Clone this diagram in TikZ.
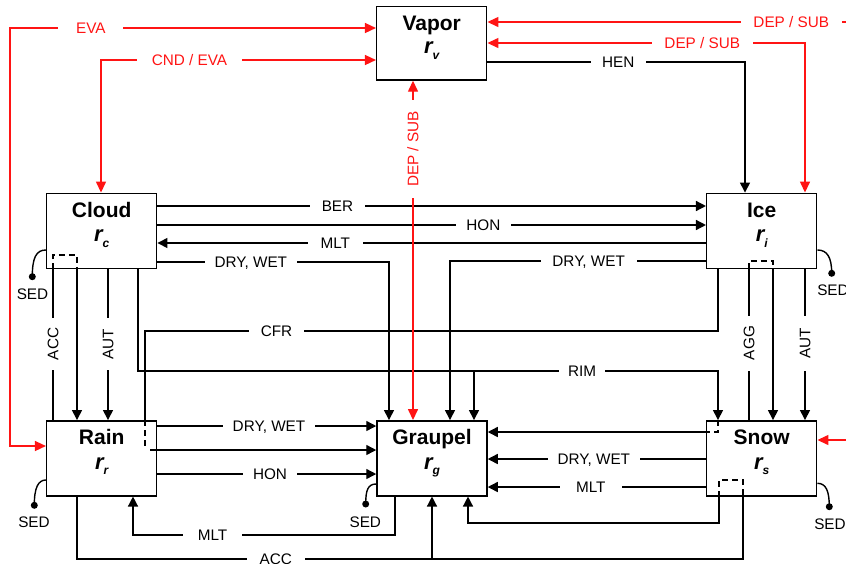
\documentclass[tikz,border=0pt]{standalone}
\usepackage{fontspec}
\setmainfont{Liberation Sans}
\usetikzlibrary{arrows.meta,calc}
\definecolor{rd}{RGB}{255,20,20}
\newcommand{\rsub}[1]{r\raisebox{-5.5pt}{\fontsize{12}{12}\selectfont #1}}
\begin{document}
\begin{tikzpicture}[x=1pt,y=-1pt,
  box/.style={draw,line width=1.5pt,minimum width=110pt,minimum height=75pt,inner sep=0pt},
  ttl/.style={font=\fontsize{21}{21}\selectfont\bfseries,anchor=base,inner sep=0pt},
  sym/.style={font=\fontsize{22}{22}\selectfont\bfseries\itshape,anchor=base,inner sep=0pt},
  ln/.style={line width=1.4pt},
  arr/.style={ln,-{Triangle[length=10pt,width=10pt]}},
  rarr2/.style={ln,draw=rd,{Triangle[length=11pt,width=10pt]}-{Triangle[length=11pt,width=10pt]}},
  dsh/.style={line width=1.4pt,dash pattern=on 6pt off 4pt},
  lab/.style={fill=white,font=\fontsize{15.3}{15.3}\selectfont,inner xsep=0pt,inner ysep=1pt,text height=10.8pt,text depth=0pt,minimum width=#1},
  rlab/.style={lab=#1,text=rd},
  sedlab/.style={font=\fontsize{15.3}{15.3}\selectfont,inner sep=0pt,text height=10.8pt,text depth=0pt},
  sdot/.style={circle,fill,inner sep=0pt,minimum size=7pt},
]
\useasboundingbox (0,0) rectangle (846,563);
\clip (0,0) rectangle (846,563);

% boxes
\node[box,minimum height=73.3pt] (vapor) at (431.7,43.3) {};
\node[box] (cloud) at (101.7,230.8) {};
\node[box] (ice) at (761.7,230.8) {};
\node[box] (rain) at (101.7,458.3) {};
\node[box] (graupel) at (432,458.3) {};
\node[box] (snow) at (761.7,458.3) {};

\node[ttl] (vaporT) at ($(vapor.north)+(0,25)$) {Vapor};
\node[sym] (vaporR) at ($(vapor.north)+(0,48)$) {\rsub{v}};
\node[ttl] (cloudT) at ($(cloud.north)+(0,25)$) {Cloud};
\node[sym] (cloudR) at ($(cloud.north)+(0,49)$) {\rsub{c}};
\node[ttl] (iceT) at ($(ice.north)+(0,25)$) {Ice};
\node[sym] (iceR) at ($(ice.north)+(0,49)$) {\rsub{i}};
\node[ttl] (rainT) at ($(rain.north)+(0,24)$) {Rain};
\node[sym] (rainR) at ($(rain.north)+(0,49)$) {\rsub{r}};
\node[ttl] (graupelT) at ($(graupel.north)+(0,24)$) {Graupel};
\node[sym] (graupelR) at ($(graupel.north)+(0,49)$) {\rsub{g}};
\node[ttl] (snowT) at ($(snow.north)+(0,24)$) {Snow};
\node[sym] (snowR) at ($(snow.north)+(0,49)$) {\rsub{s}};

% named junction coordinates
\coordinate (cfrS) at (150,450);
\coordinate (rimB) at (474,371);
\coordinate (accB) at (432,559);

% black connectors
\draw[arr] (vapor.east |- 0,62) -- (745,62) -- (ice.north -| 745,0);
\draw[arr] (cloud.east |- 0,206) -- (ice.west |- 0,206);
\draw[arr] (cloud.east |- 0,225) -- (ice.west |- 0,225);
\draw[arr] (ice.west |- 0,243) -- (cloud.east |- 0,243);
\draw[arr] (cloud.east |- 0,262) -- (389,262) -- (graupel.north -| 389,0);
\draw[arr] (ice.west |- 0,261) -- (450,261) -- (graupel.north -| 450,0);
% CFR
\draw[ln] (ice.south -| 718,0) -- (718,331) -- (145,331) -- (rain.north -| 145,0);
\draw[dsh] (rain.north -| 145,0) -- (145,448);
\draw[arr] (cfrS) -- (graupel.west |- cfrS);
% RIM
\draw[arr] (cloud.south -| 138,0) -- (138,371) -- (718,371) -- (snow.north -| 718,0);
\draw[arr] (rimB) -- (graupel.north -| rimB);
\draw[dsh] (snow.north -| 718,0) -- (718,432) -- (snow.west |- 0,432);
% snow -> graupel
\draw[arr] (snow.west |- 0,432) -- (graupel.east |- 0,432);
\draw[arr] (snow.west |- 0,459) -- (graupel.east |- 0,459);
\draw[arr] (snow.west |- 0,487) -- (graupel.east |- 0,487);
\draw[dsh] (snow.south -| 719,0) -- (719,480) -- (743,480) -- (snow.south -| 743,0);
\draw[arr] (snow.south -| 719,0) -- (719,523) -- (468,523) -- (graupel.south -| 468,0);
% ACC bottom
\draw[ln] (rain.south -| 77,0) -- (77,559) -- (743,559) -- (snow.south -| 743,0);
\draw[arr] (accB) -- (graupel.south -| accB);
% MLT graupel -> rain
\draw[arr] (graupel.south -| 395,0) -- (395,535) -- (133,535) -- (rain.south -| 133,0);
% rain -> graupel
\draw[arr] (rain.east |- 0,426) -- (graupel.west |- 0,426);
\draw[arr] (rain.east |- 0,474) -- (graupel.west |- 0,474);
% cloud -> rain
\draw[ln] (cloud.south -| 53,0) -- (rain.north -| 53,0);
\draw[dsh] (cloud.south -| 53,0) -- (53,255) -- (77,255) -- (cloud.south -| 77,0);
\draw[arr] (cloud.south -| 77,0) -- (rain.north -| 77,0);
\draw[arr] (cloud.south -| 108,0) -- (rain.north -| 108,0);
% ice -> snow
\draw[ln] (ice.south -| 749,0) -- (snow.north -| 749,0);
\draw[dsh] (ice.south -| 749,0) -- (749,261) -- (773,261) -- (ice.south -| 773,0);
\draw[arr] (ice.south -| 773,0) -- (snow.north -| 773,0);
\draw[arr] (ice.south -| 805,0) -- (snow.north -| 805,0);

% black labels
\node[lab=55.3] (lHEN) at (618.3,62) {HEN};
\node[lab=55] (lBER) at (337.5,206) {BER};
\node[lab=54.7] (lHON1) at (483.3,225) {HON};
\node[lab=54.7] (lMLT1) at (335.3,243) {MLT};
\node[lab=91.7] (lDW1) at (250.8,262) {DRY, WET};
\node[lab=96] (lDW2) at (588.7,261) {DRY, WET};
\node[lab=55] (lCFR) at (276.5,331) {CFR};
\node[lab=45.7] (lRIM) at (582.2,371) {RIM};
\node[lab=91.7] (lDW3) at (269,426) {DRY, WET};
\node[lab=54.7] (lHON2) at (270,474) {HON};
\node[lab=59.7] (lMLT2) at (212.5,535) {MLT};
\node[lab=58.3] (lACC2) at (275.8,559) {ACC};
\node[lab=92.3] (lDW4) at (593.8,459) {DRY, WET};
\node[lab=61.7] (lMLT3) at (590.8,487) {MLT};
\node[lab=52,rotate=90] (lACC1) at (53,344) {ACC};
\node[lab=52,rotate=90] (lAUT1) at (108,344) {AUT};
\node[lab=55,rotate=90] (lAGG) at (749,343) {AGG};
\node[lab=55,rotate=90] (lAUT2) at (805,343) {AUT};

% sedimentation
\node[sdot] (cloudD) at (32.3,276.7) {};
\node[sdot] (iceD) at (831.7,273.3) {};
\node[sdot] (rainD) at (34.3,505.3) {};
\node[sdot] (graupelD) at (365.7,504) {};
\node[sdot] (snowD) at (829.3,506.7) {};
\draw[ln] (cloud.west |- 0,250) .. controls (36,250) and (32.3,258) .. (cloudD.center);
\draw[ln] (ice.east |- 0,250) .. controls (827,250) and (831.7,257) .. (iceD.center);
\draw[ln] (rain.west |- 0,480) .. controls (38,480) and (34.3,488) .. (rainD.center);
\draw[ln] (graupel.west |- 0,484) .. controls (368,484) and (365.7,490) .. (graupelD.center);
\draw[ln] (snow.east |- 0,483.3) .. controls (826,483.3) and (829.3,491) .. (snowD.center);
\node[sedlab] (cloudS) at (32.5,294) {SED};
\node[sedlab] (iceS) at (833,290.5) {SED};
\node[sedlab] (rainS) at (34,522.5) {SED};
\node[sedlab] (graupelS) at (365.3,522) {SED};
\node[sedlab] (snowS) at (830,524) {SED};

% red connectors
\draw[rarr2] (vapor.west |- 0,28) -- (10,28) -- (10,446) -- (rain.west |- 0,446);
\draw[rarr2] (vapor.west |- 0,60) -- (101,60) -- (cloud.north -| 101,0);
\draw[rarr2] (vapor.east |- 0,22) -- (880,22) -- (880,440) -- (snow.east |- 0,440);
\draw[rarr2] (vapor.east |- 0,43) -- (805,43) -- (ice.north -| 805,0);
\draw[rarr2] (vapor.south -| 413,0) -- (graupel.north -| 413,0);

% red labels
\node[rlab=65] (lEVA) at (90.8,28) {EVA};
\node[rlab=105.7] (lCND) at (189.5,60) {CND / EVA};
\node[rlab=100.7] (lDEP1) at (791.3,22) {DEP / SUB};
\node[rlab=100.7] (lDEP2) at (702.3,43) {DEP / SUB};
\node[rlab=98,rotate=90] (lDEP3) at (413,149) {DEP / SUB};
\end{tikzpicture}
\end{document}
